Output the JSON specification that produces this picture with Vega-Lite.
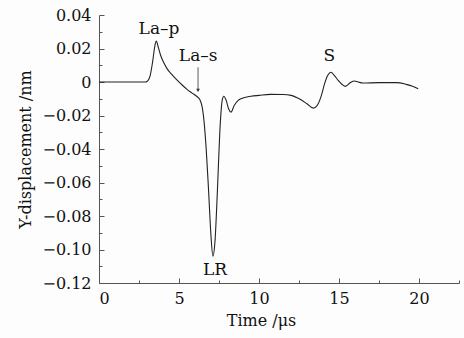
{
  "$schema": "https://vega.github.io/schema/vega-lite/v6.json",
  "autosize": "none",
  "width": 360,
  "height": 268,
  "padding": {"left": 99, "top": 15, "right": 5, "bottom": 55},
  "background": "#fdfdfd",
  "config": {
    "view": {"stroke": null},
    "font": "DejaVu Serif",
    "axis": {
      "domainColor": "#555",
      "tickColor": "#555",
      "labelColor": "#111",
      "titleColor": "#111",
      "labelFont": "DejaVu Serif",
      "titleFont": "DejaVu Serif",
      "labelFontSize": 16,
      "titleFontSize": 16,
      "titleFontWeight": "normal",
      "labelOverlap": false,
      "grid": false
    }
  },
  "datasets": {
    "curve": [
      {"t": 0, "y": 0}, {"t": 2.9, "y": 0}, {"t": 3.0, "y": 0.0003}, {"t": 3.2, "y": 0.004},
      {"t": 3.35, "y": 0.012}, {"t": 3.5, "y": 0.022}, {"t": 3.58, "y": 0.0245}, {"t": 3.7, "y": 0.021},
      {"t": 3.85, "y": 0.016}, {"t": 4.0, "y": 0.0125}, {"t": 4.25, "y": 0.008}, {"t": 4.6, "y": 0.004},
      {"t": 4.9, "y": 0.001}, {"t": 5.2, "y": -0.0018}, {"t": 5.5, "y": -0.0044}, {"t": 5.8, "y": -0.0065},
      {"t": 6.1, "y": -0.0085}, {"t": 6.3, "y": -0.0105}, {"t": 6.45, "y": -0.015}, {"t": 6.55, "y": -0.022},
      {"t": 6.7, "y": -0.04}, {"t": 6.85, "y": -0.065}, {"t": 7.0, "y": -0.092}, {"t": 7.12, "y": -0.104},
      {"t": 7.25, "y": -0.095}, {"t": 7.4, "y": -0.065}, {"t": 7.55, "y": -0.03}, {"t": 7.7, "y": -0.011},
      {"t": 7.8, "y": -0.0085}, {"t": 7.95, "y": -0.011}, {"t": 8.1, "y": -0.016}, {"t": 8.25, "y": -0.018},
      {"t": 8.45, "y": -0.014}, {"t": 8.7, "y": -0.011}, {"t": 9.0, "y": -0.0095}, {"t": 9.5, "y": -0.0085},
      {"t": 10, "y": -0.008}, {"t": 10.7, "y": -0.0074}, {"t": 11.5, "y": -0.0075}, {"t": 12, "y": -0.008},
      {"t": 12.6, "y": -0.0105}, {"t": 13.0, "y": -0.013}, {"t": 13.4, "y": -0.0156}, {"t": 13.7, "y": -0.013},
      {"t": 13.9, "y": -0.008}, {"t": 14.1, "y": -0.001}, {"t": 14.3, "y": 0.004}, {"t": 14.5, "y": 0.0058},
      {"t": 14.7, "y": 0.004}, {"t": 14.95, "y": 0.001}, {"t": 15.2, "y": -0.0015}, {"t": 15.4, "y": -0.0026},
      {"t": 15.7, "y": -0.0005}, {"t": 15.95, "y": 0.0006}, {"t": 16.2, "y": 0.0}, {"t": 16.5, "y": -0.0006},
      {"t": 17.5, "y": -0.0004}, {"t": 18.6, "y": -0.0004}, {"t": 19.2, "y": -0.0014}, {"t": 19.6, "y": -0.0025},
      {"t": 19.95, "y": -0.004}
    ],
    "labels": [
      {"t": 3.75, "y": 0.0315, "text": "La–p"},
      {"t": 6.2, "y": 0.0155, "text": "La–s"},
      {"t": 7.25, "y": -0.1125, "text": "LR"},
      {"t": 14.4, "y": 0.0155, "text": "S"}
    ],
    "arrow": [
      {"t": 6.19, "y": 0.0088, "y2": -0.005}
    ],
    "arrowhead": [
      {"t": 6.19, "y": -0.005}
    ]
  },
  "encoding": {
    "x": {
      "field": "t", "type": "quantitative",
      "scale": {"domain": [0, 22.5], "nice": false},
      "axis": {
        "title": "Time /μs",
        "titleX": 162,
        "values": [0, 2.5, 5, 7.5, 10, 12.5, 15, 17.5, 20, 22.5],
        "labelExpr": "datum.value % 5 == 0 ? datum.label : ''",
        "tickSize": {"condition": {"test": "datum.value % 5 == 0", "value": -5}, "value": -3},
        "labelPadding": 12,
        "titlePadding": 4
      }
    },
    "y": {
      "field": "y", "type": "quantitative",
      "scale": {"domain": [-0.12, 0.04], "nice": false},
      "axis": {
        "title": "Y-displacement /nm",
        "values": [-0.12, -0.11, -0.1, -0.09, -0.08, -0.07, -0.06, -0.05, -0.04, -0.03, -0.02, -0.01, 0, 0.01, 0.02, 0.03, 0.04],
        "labelExpr": "abs(round(datum.value*100)) % 2 == 1 ? '' : (datum.value == 0 ? '0' : format(datum.value, '.2f'))",
        "tickSize": {"condition": {"test": "abs(round(datum.value*100)) % 2 == 0", "value": -5}, "value": -3},
        "labelPadding": 13,
        "titlePadding": 8
      }
    }
  },
  "layer": [
    {
      "data": {"name": "curve"},
      "mark": {"type": "line", "color": "#222", "strokeWidth": 1.1, "interpolate": "monotone"}
    },
    {
      "data": {"name": "arrow"},
      "mark": {"type": "rule", "color": "#333", "strokeWidth": 0.8},
      "encoding": {
        "y2": {"field": "y2"}
      }
    },
    {
      "data": {"name": "arrowhead"},
      "mark": {"type": "point", "shape": "triangle-down", "filled": true, "color": "#333", "size": 14, "opacity": 1}
    },
    {
      "data": {"name": "labels"},
      "mark": {"type": "text", "font": "DejaVu Serif", "fontSize": 17, "color": "#111", "baseline": "middle", "align": "center"},
      "encoding": {
        "text": {"field": "text"}
      }
    }
  ]
}
